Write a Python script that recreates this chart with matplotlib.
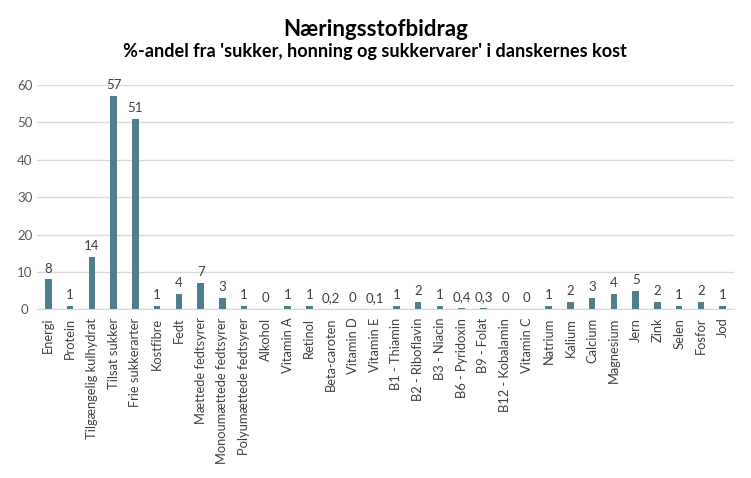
import numpy as np
import matplotlib
matplotlib.use("Agg")
import matplotlib.pyplot as plt

plt.rcParams['font.family'] = ['Lato', 'DejaVu Sans']

categories = ["Energi", "Protein", "Tilgængelig kulhydrat", "Tilsat sukker", "Frie sukkerarter",
              "Kostfibre", "Fedt", "Mættede fedtsyrer", "Monoumættede fedtsyrer",
              "Polyumættede fedtsyrer", "Alkohol", "Vitamin A", "Retinol", "Beta-caroten",
              "Vitamin D", "Vitamin E", "B1 - Thiamin", "B2 - Riboflavin", "B3 - Niacin",
              "B6 - Pyridoxin", "B9 - Folat", "B12 - Kobalamin", "Vitamin C", "Natrium",
              "Kalium", "Calcium", "Magnesium", "Jern", "Zink", "Selen", "Fosfor", "Jod"]
values = [8, 1, 14, 57, 51, 1, 4, 7, 3, 1, 0, 1, 1, 0.2, 0, 0.1, 1, 2, 1, 0.4, 0.3,
          0, 0, 1, 2, 3, 4, 5, 2, 1, 2, 1]
yticks = [0, 10, 20, 30, 40, 50, 60]

bar_color = "#4F7F8C"
text_color = "#404040"

fig = plt.figure(figsize=(7.51, 4.78), dpi=100)
ax = fig.add_axes([37.4 / 751, 1 - 309.3 / 478, (733.6 - 37.4) / 751, (309.3 - 85) / 478])

x = np.arange(len(categories))
ax.bar(x, values, width=0.3, color=bar_color, zorder=3)

for xi, v in zip(x, values):
    lbl = ("%g" % v).replace(".", ",")
    ax.annotate(lbl, (xi, v), xytext=(0, 3.5), textcoords="offset points",
                ha="center", va="bottom", fontsize=9.5, color=text_color, clip_on=False)

ax.set_xlim(-0.5, len(categories) - 0.5)
ax.set_ylim(0, 60)
ax.set_yticks(yticks)
ax.set_xticks(x)
ax.set_xticklabels(categories, rotation=90, fontsize=9.3, color=text_color)
ax.tick_params(axis="y", length=0, labelsize=9.5, labelcolor="#595959", pad=9)
ax.tick_params(axis="x", length=0, pad=6)
for lab in ax.get_yticklabels():
    lab.set_horizontalalignment("center")

ax.grid(axis="y", color="#D9D9D9", linewidth=1, zorder=0)
for s in ["top", "right", "left"]:
    ax.spines[s].set_visible(False)
ax.spines["bottom"].set_color("#D9D9D9")

fig.text(375.5 / 751, 1 - 29 / 478, "Næringsstofbidrag", ha="center", va="center",
         fontsize=16, fontweight="bold", color="#000000")
fig.text(375 / 751, 1 - 52 / 478, "%-andel fra 'sukker, honning og sukkervarer' i danskernes kost",
         ha="center", va="center", fontsize=13.1, fontweight="bold", color="#000000")

fig.savefig("out.png", dpi=100)
